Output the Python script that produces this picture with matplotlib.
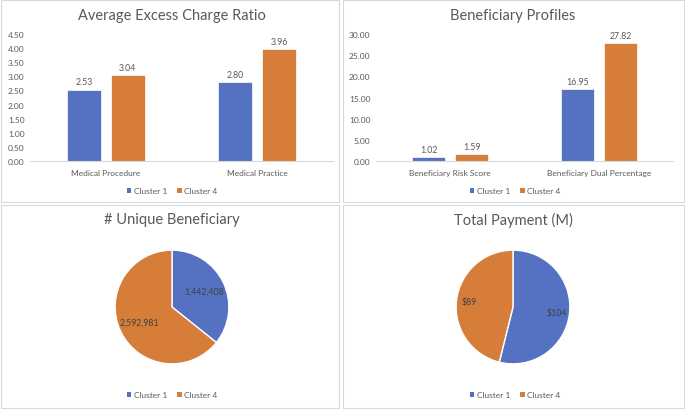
import matplotlib
matplotlib.use("Agg")
import matplotlib.pyplot as plt
from matplotlib.patches import Patch, Rectangle
import numpy as np

plt.rcParams['font.family'] = ['Lato', 'DejaVu Sans']

series = ["Cluster 1", "Cluster 4"]
colors = ["#5572C2", "#D67D3A"]

ratio_cats = ["Medical Procedure", "Medical Practice"]
ratio_c1 = [2.53, 2.80]
ratio_c4 = [3.04, 3.96]
ratio_ticks = [0, 0.5, 1.0, 1.5, 2.0, 2.5, 3.0, 3.5, 4.0, 4.5]

prof_cats = ["Beneficiary Risk Score", "Beneficiary Dual Percentage"]
prof_c1 = [1.02, 16.95]
prof_c4 = [1.59, 27.82]
prof_ticks = [0, 5, 10, 15, 20, 25, 30]

bene_vals = [1442408, 2592981]
pay_vals = [104, 89]

W, H = 685, 410
fig = plt.figure(figsize=(W / 100, H / 100), dpi=100)
fig.patch.set_facecolor("white")

TXT = "#595959"
BORDER = "#D9D9D9"


def px_axes(x0, y0, x1, y1):
    return fig.add_axes([x0 / W, 1 - y1 / H, (x1 - x0) / W, (y1 - y0) / H])


def fig_text(x, y, s, **kw):
    fig.text(x / W, 1 - y / H, s, **kw)


def legend_at(x, y):
    handles = [Patch(facecolor=c, edgecolor='none', label=l) for c, l in zip(colors, series)]
    fig.legend(handles=handles, loc='center', bbox_to_anchor=(x / W, 1 - y / H),
               ncol=2, frameon=False, fontsize=6, handlelength=0.55, handleheight=0.55,
               handletextpad=0.3, columnspacing=1.2, labelcolor=TXT)


# panel borders
for (x0, y0, x1, y1) in [(0.5, 0.5, 339, 203), (343, 0.5, 684, 203),
                         (0.5, 206, 339, 409), (343, 206, 684, 409)]:
    fig.add_artist(Rectangle((x0 / W, 1 - y1 / H), (x1 - x0) / W, (y1 - y0) / H,
                             transform=fig.transFigure, fill=False,
                             edgecolor=BORDER, linewidth=0.8))


def bar_panel(ax, cats, c1, c4, ticks, fmt):
    x = np.arange(len(cats))
    w = 0.224
    off = 0.145
    b1 = ax.bar(x - off, c1, w, color=colors[0], edgecolor='white', linewidth=0.5)
    b2 = ax.bar(x + off, c4, w, color=colors[1], edgecolor='white', linewidth=0.5)
    ymax = ticks[-1]
    for bars, vals in [(b1, c1), (b2, c4)]:
        for b, v in zip(bars, vals):
            ax.text(b.get_x() + b.get_width() / 2, v + ymax * 0.025, fmt.format(v),
                    ha='center', va='bottom', fontsize=6.3, color=TXT)
    ax.set_xlim(-0.5, len(cats) - 0.5)
    ax.set_ylim(0, ymax)
    ax.set_yticks(ticks)
    ax.set_yticklabels([fmt.format(t) for t in ticks])
    ax.set_xticks(x)
    ax.set_xticklabels(cats)
    for s in ["top", "right", "left"]:
        ax.spines[s].set_visible(False)
    ax.spines["bottom"].set_color(BORDER)
    ax.spines["bottom"].set_linewidth(0.8)
    ax.tick_params(axis='both', length=0, labelsize=6, labelcolor=TXT)
    ax.tick_params(axis='x', pad=6)
    ax.tick_params(axis='y', pad=4)
    ax.set_facecolor('none')


ax1 = px_axes(30, 35, 333, 162)
bar_panel(ax1, ratio_cats, ratio_c1, ratio_c4, ratio_ticks, "{:.2f}")
fig_text(172, 16, "Average Excess Charge Ratio", ha='center', va='center', fontsize=10.5, color=TXT)
legend_at(172, 192)

ax2 = px_axes(376, 35, 673, 162)
bar_panel(ax2, prof_cats, prof_c1, prof_c4, prof_ticks, "{:.2f}")
fig_text(513, 16, "Beneficiary Profiles", ha='center', va='center', fontsize=10.5, color=TXT)
legend_at(515, 192)


def pie_panel(cx, cy, r, vals, fmtfun, dist):
    ax = px_axes(cx - r, cy - r, cx + r, cy + r)
    total = sum(vals)
    ax.pie(vals, colors=colors, startangle=90, counterclock=False, radius=1,
           wedgeprops=dict(edgecolor='white', linewidth=1),
           autopct=lambda p: fmtfun(p * total / 100), pctdistance=dist,
           textprops=dict(fontsize=6.3, color="#404040"))
    ax.set_xlim(-1.02, 1.02)
    ax.set_ylim(-1.02, 1.02)
    ax.set_aspect('equal')
    ax.axis('off')


pie_panel(172, 308, 58, bene_vals, lambda v: f"{int(round(v)):,}", 0.63)
fig_text(172, 220, "# Unique Beneficiary", ha='center', va='center', fontsize=10.5, color=TXT)
legend_at(172, 396)

pie_panel(513, 308, 58, pay_vals, lambda v: f"${int(round(v))}", 0.78)
fig_text(513, 220, "Total Payment (M)", ha='center', va='center', fontsize=10.5, color=TXT)
legend_at(515, 396)

fig.savefig("out.png", dpi=100, facecolor="white")
